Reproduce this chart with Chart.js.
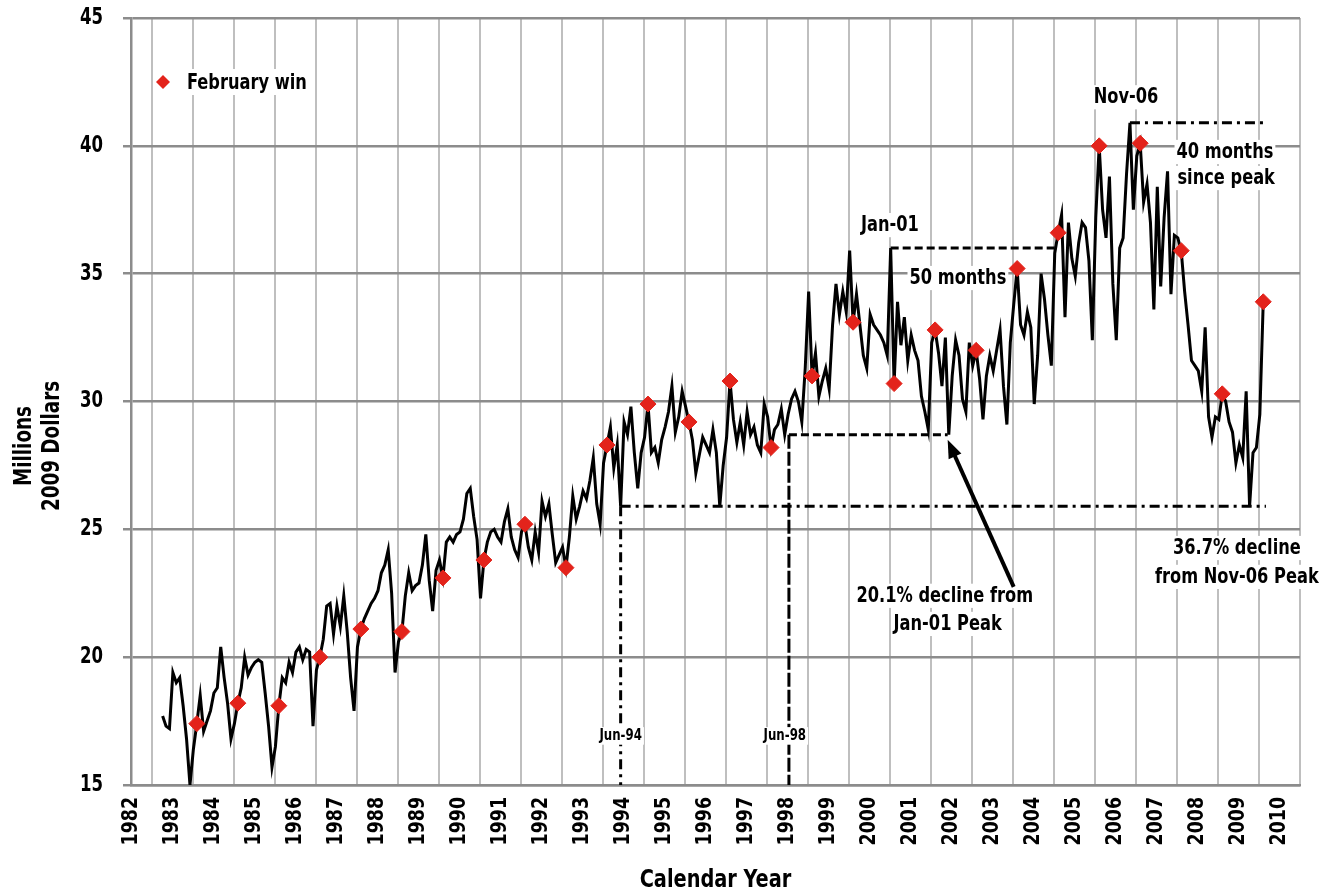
<!DOCTYPE html>
<html>
<head>
<meta charset="utf-8">
<script src="https://cdn.jsdelivr.net/npm/chart.js@4.4.1/dist/chart.umd.min.js"></script>
<style>
  html, body { margin: 0; padding: 0; background: #fff; }
  #wrap { width: 1332px; height: 894px; }
</style>
</head>
<body>
<div id="wrap"><canvas id="chart" width="1332" height="894"></canvas></div>
<script>
// monthly series starts April 1983
const firstYear = 1983;
const firstMonth = 4;

const values1980s = [
  17.7, 17.3, 17.2, 19.4, 19.0, 19.2, 18.1, 16.8, 15.0,
  16.4, 17.4, 18.5, 17.1, 17.5, 17.9, 18.6, 18.8, 20.4, 19.2, 18.2, 16.8,
  17.4, 18.2, 18.8, 20.0, 19.3, 19.6, 19.8, 19.9, 19.8, 18.6, 17.3, 15.7,
  16.5, 18.1, 19.2, 19.0, 19.8, 19.4, 20.2, 20.4, 19.9, 20.3, 20.2, 17.3,
  19.5, 20.0, 20.7, 22.0, 22.1, 20.9, 22.0, 21.2, 22.4, 21.0, 19.2, 17.9,
  20.4, 21.1, 21.5, 21.8, 22.1, 22.3, 22.6, 23.3, 23.6, 24.2, 22.5, 19.4,
  20.6, 21.0, 22.4, 23.3, 22.6, 22.8, 22.9, 23.6, 24.8, 23.0, 21.8, 23.4
];
const values1990s = [
  23.8, 23.1, 24.5, 24.7, 24.5, 24.8, 24.9, 25.4, 26.4, 26.6, 25.5, 24.6,
  22.3, 23.8, 24.5, 24.9, 25.0, 24.7, 24.5, 25.3, 25.8, 24.7, 24.2, 23.9,
  24.9, 25.2, 24.3, 23.8, 24.9, 24.1, 26.1, 25.5, 26.0, 24.8, 23.7, 24.0,
  24.3, 23.5, 24.7, 26.3, 25.4, 25.9, 26.5, 26.2, 26.9, 27.8, 26.0, 25.2,
  27.6, 28.3, 29.0, 27.4, 28.3, 25.9, 29.2, 28.7, 29.8, 28.0, 26.6, 28.0,
  28.6, 29.9, 28.0, 28.2, 27.6, 28.5, 29.0, 29.6, 30.6, 28.8, 29.4, 30.4,
  29.8, 29.2, 28.5, 27.2, 27.9, 28.6, 28.3, 28.0, 28.9, 28.0, 25.9, 27.5,
  28.6, 30.8, 29.3, 28.4, 29.2, 28.3, 29.6, 28.7, 29.0, 28.3, 28.0, 29.9,
  29.4, 28.2, 28.9, 29.1, 29.7, 28.7, 29.5, 30.1, 30.4, 30.0, 29.2, 31.3,
  34.3, 31.0, 31.9, 30.2, 30.8, 31.3, 30.5, 33.0, 34.6, 33.4, 34.3, 33.5
];
const values2000s = [
  35.9, 33.1, 34.2, 33.0, 31.8, 31.3, 33.4, 33.0, 32.8, 32.6, 32.3, 31.8,
  36.0, 30.7, 33.9, 32.2, 33.3, 31.6, 32.6, 32.0, 31.6, 30.2, 29.6, 28.9,
  32.3, 32.8, 31.9, 30.6, 32.5, 28.7, 31.0, 32.4, 31.8, 30.1, 29.6, 32.3,
  31.4, 32.0, 30.9, 29.3, 31.0, 31.8, 31.2, 32.0, 32.8, 30.6, 29.1, 32.3,
  33.8, 35.2, 33.0, 32.6, 33.5, 32.9, 29.9, 31.8, 35.0, 34.0, 32.6, 31.4,
  35.8, 36.6, 37.3, 33.3, 37.0, 35.6, 34.9, 36.2, 37.0, 36.8, 35.5, 32.4,
  37.2, 40.0, 37.5, 36.4, 38.8, 34.6, 32.4, 36.0, 36.4, 38.9, 40.9, 37.5,
  39.6, 40.1, 37.8, 38.5, 37.0, 33.6, 38.4, 34.5, 37.2, 39.0, 34.2, 36.5,
  36.4, 35.9, 34.3, 33.0, 31.6, 31.4, 31.2, 30.4, 32.9, 29.4, 28.6, 29.4,
  29.3, 30.3, 30.0, 29.2, 28.8, 27.6, 28.3, 27.8, 30.4, 25.9, 28.0, 28.2,
  29.5, 33.9
];

const yearLabels = [];
for (let yr = 1982; yr <= 2010; yr++) yearLabels.push(yr);
const yTicks = [15, 20, 25, 30, 35, 40, 45];

const FONT = "'Liberation Sans Narrow', 'Arial Narrow', 'DejaVu Sans Condensed', sans-serif";
const SQUEEZE = 0.82; // the original uses a narrow bold face

const monthly = values1980s.concat(values1990s, values2000s);
const linePoints = monthly.map((v, i) => {
  const k = firstMonth - 1 + i;
  const year = firstYear + Math.floor(k / 12);
  const month = (k % 12) + 1;
  return { x: year + (month - 0.75) / 12, y: v, month: month };
});
const febPoints = linePoints.filter(p => p.month === 2);

// reference lines, in chart units (year, value)
const jun94 = 1994 + 5.25 / 12;
const jun98 = 1998.54;
const jan01 = 2001 + 0.25 / 12;
const nov06 = 2006 + 10.25 / 12;
const dashDot = [10, 5, 3, 5];
const dashed = [8, 4];
const refLines = [
  { from: [jun94, 25.9], to: [2010.17, 25.9], dash: dashDot },
  { from: [jun94, 25.9], to: [jun94, 15], dash: dashDot },
  { from: [jun98, 28.7], to: [2002.41, 28.7], dash: dashed },
  { from: [jun98, 28.7], to: [jun98, 15], dash: [14, 3] },
  { from: [jan01, 36.0], to: [2005.07, 36.0], dash: dashed },
  { from: [nov06, 40.9], to: [2010.17, 40.9], dash: dashDot }
];
const notes = [
  { text: 'Jan-01', at: [2001.0, 36.9], size: 22 },
  { text: '50 months', at: [2002.66, 34.83], size: 22 },
  { text: 'Nov-06', at: [2006.76, 41.9], size: 22 },
  { text: '40 months', at: [2009.17, 39.76], size: 22 },
  { text: 'since peak', at: [2009.2, 38.74], size: 22 },
  { text: '20.1% decline from', at: [2002.34, 22.4], size: 22 },
  { text: 'Jan-01 Peak', at: [2002.41, 21.3], size: 22 },
  { text: '36.7% decline', at: [2009.46, 24.27], size: 22 },
  { text: 'from Nov-06 Peak', at: [2009.46, 23.14], size: 22 },
  { text: 'Jun-94', at: [jun94, 16.92], size: 16 },
  { text: 'Jun-98', at: [1998.44, 16.92], size: 16 }
];
const arrow = { from: [2004.02, 22.75], to: [2002.41, 28.5] };

function narrowText(ctx, text, x, y, size, sq, align, angle) {
  ctx.save();
  ctx.font = 'bold ' + size + 'px ' + FONT;
  ctx.translate(x, y);
  if (angle) ctx.rotate(angle);
  ctx.scale(sq, 1);
  ctx.textAlign = align || 'center';
  ctx.textBaseline = 'middle';
  ctx.fillStyle = '#000';
  ctx.fillText(text, 0, 0);
  ctx.restore();
}

const notesPlugin = {
  id: 'notes',
  afterDatasetsDraw(chart) {
    const { ctx } = chart;
    const xs = chart.scales.x, ys = chart.scales.y;
    const P = (pt) => [xs.getPixelForValue(pt[0]), ys.getPixelForValue(pt[1])];
    ctx.save();
    ctx.strokeStyle = '#000';
    ctx.lineWidth = 3;
    ctx.lineCap = 'butt';
    refLines.forEach(l => {
      const a = P(l.from), b = P(l.to);
      ctx.setLineDash(l.dash);
      ctx.beginPath();
      ctx.moveTo(a[0], a[1]);
      ctx.lineTo(b[0], b[1]);
      ctx.stroke();
    });
    ctx.setLineDash([]);

    notes.forEach(n => {
      const p = P(n.at);
      ctx.font = 'bold ' + n.size + 'px ' + FONT;
      const w = ctx.measureText(n.text).width * SQUEEZE;
      ctx.fillStyle = '#fff';
      ctx.fillRect(p[0] - w / 2 - 2, p[1] - n.size * 0.55, w + 4, n.size * 1.1);
      narrowText(ctx, n.text, p[0], p[1], n.size, SQUEEZE);
    });

    // arrow towards the 2002 trough
    const t = P(arrow.from), h = P(arrow.to);
    const ang = Math.atan2(h[1] - t[1], h[0] - t[0]);
    ctx.lineWidth = 4;
    ctx.beginPath();
    ctx.moveTo(t[0], t[1]);
    ctx.lineTo(h[0] - 10 * Math.cos(ang), h[1] - 10 * Math.sin(ang));
    ctx.stroke();
    ctx.beginPath();
    ctx.moveTo(h[0], h[1]);
    ctx.lineTo(h[0] - 18 * Math.cos(ang) + 7 * Math.sin(ang), h[1] - 18 * Math.sin(ang) - 7 * Math.cos(ang));
    ctx.lineTo(h[0] - 18 * Math.cos(ang) - 7 * Math.sin(ang), h[1] - 18 * Math.sin(ang) + 7 * Math.cos(ang));
    ctx.closePath();
    ctx.fillStyle = '#000';
    ctx.fill();
    ctx.restore();
  },
  afterDraw(chart) {
    const { ctx, chartArea } = chart;
    const xs = chart.scales.x, ys = chart.scales.y;

    // tick labels, placed on the chart's own scales
    yTicks.forEach(v => narrowText(ctx, String(v), chartArea.left - 28, ys.getPixelForValue(v), 23, 0.8, 'right'));
    yearLabels.forEach(yr => narrowText(ctx, String(yr), xs.getPixelForValue(yr + 0.5), chartArea.bottom + 12,
      22, 0.88, 'right', -Math.PI / 2));

    // axis titles
    narrowText(ctx, 'Calendar Year', (chartArea.left + chartArea.right) / 2, 880, 25, 0.86);
    narrowText(ctx, 'Millions', 25, 446, 24, 0.85, 'center', -Math.PI / 2);
    narrowText(ctx, '2009 Dollars', 53, 446, 24, 0.85, 'center', -Math.PI / 2);

    // legend box
    ctx.save();
    const lx = chartArea.left + 32, ly = chartArea.top + 64;
    ctx.font = 'bold 22px ' + FONT;
    const tw = ctx.measureText('February win').width * SQUEEZE;
    ctx.fillStyle = '#fff';
    ctx.fillRect(lx - 9, ly - 13, tw + 36, 26);
    ctx.fillStyle = '#e3231b';
    ctx.beginPath();
    ctx.moveTo(lx, ly - 7);
    ctx.lineTo(lx + 7, ly);
    ctx.lineTo(lx, ly + 7);
    ctx.lineTo(lx - 7, ly);
    ctx.closePath();
    ctx.fill();
    ctx.restore();
    narrowText(ctx, 'February win', lx + 24, ly + 1, 22, SQUEEZE, 'left');
  }
};

new Chart(document.getElementById('chart'), {
  type: 'scatter',
  data: {
    datasets: [
      {
        label: 'February win',
        data: febPoints,
        order: 0,
        showLine: false,
        pointStyle: 'rectRot',
        pointRadius: 8,
        pointBackgroundColor: '#e3231b',
        pointBorderColor: '#e3231b',
        pointBorderWidth: 1
      },
      {
        label: 'Monthly',
        data: linePoints,
        order: 1,
        showLine: true,
        borderColor: '#000',
        borderWidth: 3,
        pointRadius: 0,
        tension: 0
      }
    ]
  },
  options: {
    responsive: false,
    animation: false,
    devicePixelRatio: 1,
    layout: { padding: { left: 0, right: 32, top: 18, bottom: 0 } },
    plugins: {
      legend: { display: false },
      tooltip: { enabled: false }
    },
    scales: {
      x: {
        type: 'linear',
        min: 1982.5,
        max: 2011,
        afterBuildTicks: (axis) => {
          const t = [];
          yearLabels.forEach(yr => {
            t.push({ value: yr + 0.5 });
            t.push({ value: yr + 1 });
          });
          axis.ticks = t;
        },
        afterFit: (axis) => { axis.height = 109; },
        grid: {
          color: (c) => (c.tick && Number.isInteger(c.tick.value) ? '#bfbfbf' : 'rgba(0,0,0,0)'),
          lineWidth: 2,
          drawTicks: false
        },
        border: { color: '#8c8c8c', width: 2.5 },
        ticks: { display: false, autoSkip: false }
      },
      y: {
        min: 15,
        max: 45,
        afterBuildTicks: (axis) => { axis.ticks = yTicks.map(v => ({ value: v })); },
        afterFit: (axis) => { axis.width = 131; },
        grid: { color: '#8c8c8c', lineWidth: 2.5, tickLength: 8 },
        border: { color: '#8c8c8c', width: 2.5 },
        ticks: { display: false }
      }
    }
  },
  plugins: [notesPlugin]
});
</script>
</body>
</html>
